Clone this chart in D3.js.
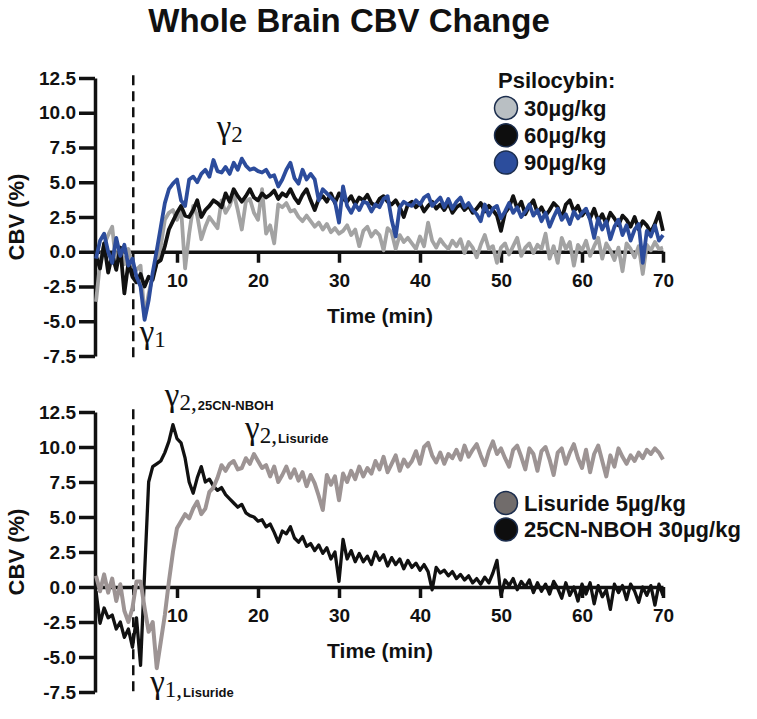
<!DOCTYPE html>
<html>
<head>
<meta charset="utf-8">
<script src="https://cdn.jsdelivr.net/npm/d3@7"></script>
<style>
    body { margin: 0; background: #fff; }
    svg text { font-family: 'Liberation Sans', Arial, sans-serif; font-weight: bold; fill: #111; }
    svg .gamma { font-family: 'Liberation Serif', 'Times New Roman', serif; font-weight: normal; }
    .axis path, .axis line { stroke: #111; stroke-width: 3.5; }
    .axis text { font-size: 19px; }
    .series { fill: none; stroke-linejoin: round; }
    .onset { stroke: #111; stroke-width: 2.5; stroke-dasharray: 10,6; }
</style>
</head>
<body>
<div id="plot"></div>
<script>

// sampled every 0.5 min from 0 to 70 min
var timeStep = 0.5;

var psilo30 = [
    -3.6, -0.8, 0.5, 1.2, 1.8, -1.0, 0.3, -0.9, 0.2, -1.0,
    -1.3, -1.0, -4.7, -3.0, -1.8, -0.8, 0.4, 2.3, 2.8, 3.0,
    2.3, 3.1, -1.2, 1.3, 3.3, 2.6, 0.9, 1.8, 2.5, 2.1,
    1.7, 3.7, 2.8, 3.3, 4.2, 3.0, 1.6, 3.6, 3.8, 2.8,
    2.3, 4.5, 1.3, 1.9, 0.6, 3.4, 3.2, 3.5, 2.9, 3.0,
    2.5, 2.2, 2.6, 2.2, 1.8, 2.1, 1.6, 2.0, 1.4, 1.7,
    1.3, 1.5, 1.9, 1.2, 1.6, 0.4, 1.5, 1.8, 1.1, 1.5,
    1.2, 0.1, 1.7, 1.4, 0.2, 1.2, 0.7, 1.0, 0.6, 0.2,
    1.1, 0.4, 2.1, 0.8, 0.3, 0.9, 0.5, 0.2, 0.8, 0.4,
    0.9, -0.1, 0.7, 0.3, -0.4, 0.5, 1.2, 0.2, 0.4, -0.8,
    0.3, 0.6, -0.2, 0.4, 1.0, -0.3, 0.3, 0.6, -0.1, 0.5,
    0.2, 1.3, -0.5, 0.4, -0.8, 1.0, 0.2, 0.7, -1.0, 0.5,
    0.1, 0.8, -0.3, 0.4, 1.0, -0.5, 0.6, 0.1, -0.6, 0.3,
    -1.4, 0.6, 0.2, -0.4, 0.4, -1.6, 0.5, 0.1, 0.7, 0.2,
    0.3
];

var psilo60 = [
    -0.3, -1.2, 0.6, -1.5, -0.2, -1.3, 0.3, -3.0, -0.8, -1.8,
    -2.2, -1.6, -2.5, -1.8, -2.0, -0.8, -0.6, 0.4, 1.6, 2.2,
    2.8, 3.3, 2.6, 2.5, 3.0, 3.7, 2.5, 3.0, 3.3, 3.7,
    3.5, 3.2, 4.2, 3.6, 4.5, 4.0, 3.6, 4.0, 4.5, 3.9,
    3.7, 4.2, 3.9, 4.1, 4.4, 3.8, 4.2, 4.0, 4.5, 3.9,
    3.5, 4.1, 4.5, 3.7, 3.0, 3.8, 4.0, 3.6, 4.2, 3.5,
    4.2, 3.8, 3.6, 4.0, 3.4, 3.9, 3.7, 4.1, 3.5, 3.3,
    3.8, 4.0, 3.6, 3.4, 3.7, 3.2, 2.5, 3.4, 3.6, 3.2,
    3.5, 2.9, 3.3, 3.6, 3.1, 3.4, 3.0, 3.5, 2.8, 3.2,
    3.4, 3.0, 3.3, 2.8, 3.1, 3.5, 2.9, 3.3, 3.0, 2.6,
    1.5, 2.8, 3.2, 4.0, 3.1, 3.6, 2.7, 3.3, 3.7, 2.8,
    3.2, 2.6, 3.0, 3.5, 3.2, 2.4, 3.4, 3.7, 2.9, 3.3,
    2.6, 3.0, 2.4, 3.1, 2.2, 2.7, 2.0, 2.8, 2.4, 1.9,
    2.6, 2.3, 1.8, 2.5, 1.6, 2.2, 1.9, 1.4, 2.0, 2.8,
    1.5
];

var psilo90 = [
    -0.5, 0.8, 1.3, 0.0, -0.8, 1.0, -0.3, 0.5, -1.0, -0.5,
    -1.8, -2.5, -4.9, -3.5, -1.5, 0.1, 1.8, 3.5, 4.5, 4.9,
    5.2, 3.7, 3.3, 5.2, 5.4, 5.0, 5.6, 5.9, 5.4, 6.6,
    5.8, 5.7, 6.1, 5.6, 6.4, 5.9, 6.7, 6.2, 5.9, 6.0,
    5.8, 5.7, 5.9, 5.4, 5.5, 4.7, 5.2, 5.9, 6.4, 5.3,
    4.9, 5.9, 5.2, 5.6, 5.2, 3.7, 4.5, 4.2, 3.9, 3.6,
    2.1, 4.7, 3.3, 2.8, 3.4, 3.0, 3.6, 3.5, 2.9, 3.4,
    3.2, 3.8, 4.0, 2.3, 1.1, 3.2, 3.6, 3.4, 3.3, 3.7,
    3.4, 3.9, 4.1, 3.3, 3.6, 3.9, 3.2, 3.8, 3.1, 3.6,
    3.9, 3.2, 3.5, 3.0, 2.7, 2.2, 3.4, 2.6, 3.1, 3.3,
    2.4, 2.9, 3.5, 2.8, 3.2, 2.5, 2.9, 3.4, 2.6, 3.0,
    2.2, 2.8, 1.8, 2.5, 3.1, 2.3, 2.7, 2.0, 2.9, 2.4,
    2.8, 3.1, 2.3, 1.0, 2.4, 1.6, 2.2, 0.9, 1.8, 2.3,
    1.2, 1.9, 0.8, 1.6, 2.0, -0.8, 1.5, 1.1, 1.9, 0.8,
    1.2
];

var lisuride = [
    0.8, -0.3, 0.9, -0.4, 0.6, -1.0, 0.2, -1.7, -2.5, -1.5,
    0.4, 0.4, -1.5, -3.2, -2.5, -5.8, -3.9, -2.0, 0.4, 2.5,
    4.2, 4.7, 5.2, 4.9, 5.6, 6.1, 5.2, 5.6, 6.8, 7.1,
    7.8, 8.7, 8.3, 8.8, 9.0, 8.4, 8.5, 9.2, 8.8, 9.5,
    9.0, 8.5, 8.7, 7.9, 8.6, 7.5, 8.0, 8.6, 7.8, 8.4,
    7.6, 8.2, 7.2, 8.0, 7.4, 6.5, 5.5, 8.0, 7.3, 7.9,
    6.2, 8.1, 7.5, 8.3, 7.7, 8.6, 7.9, 8.5, 8.1, 9.0,
    8.4, 9.3, 8.2, 8.8, 9.4, 8.3, 9.1, 8.6, 9.0, 9.7,
    8.8, 10.0, 10.3, 9.4, 8.9, 9.6, 8.8, 9.5, 9.2, 9.8,
    9.1, 10.1, 9.3, 9.8, 10.2, 9.4, 8.7, 9.7, 10.4, 9.5,
    9.9, 9.2, 8.6, 9.8, 10.1, 9.3, 8.4, 9.9, 9.5, 8.3,
    9.7, 10.0, 9.1, 8.0, 9.6, 9.9, 8.8, 9.6, 10.2, 9.2,
    8.5, 9.8, 8.2, 9.5, 10.1, 9.0, 7.9, 9.4, 8.6, 9.9,
    9.3, 8.8, 9.4, 9.0, 9.6, 9.2, 9.8, 9.5, 9.9, 9.6,
    9.1
];

var nboh = [
    -0.3, -2.6, -1.5, -2.2, -2.0, -3.0, -2.5, -3.6, -3.0, -4.3,
    -2.2, -5.6, 1.0, 7.5, 8.6, 8.8, 9.0, 9.6, 10.4, 11.6,
    10.6, 10.3, 9.2, 7.5, 6.7, 7.8, 8.6, 7.5, 7.7, 7.2,
    6.9, 7.1, 6.6, 6.3, 6.0, 5.7, 5.9, 5.3, 5.1, 5.0,
    4.7, 4.8, 4.3, 4.5, 3.9, 3.2, 4.0, 3.8, 4.3, 3.5,
    3.2, 3.6, 2.9, 3.1, 2.6, 3.0, 2.4, 2.8, 2.0, 2.5,
    0.4, 3.4, 2.0, 2.6, 1.8, 2.4, 1.8, 2.2, 1.6, 2.5,
    1.9, 2.3, 1.5, 2.1, 1.6, 2.0, 1.3, 1.9, 1.4, 1.7,
    1.2, 1.6, 1.1, -0.2, 1.4, 1.0, 1.2, 0.8, 1.1, 0.6,
    0.9, 0.5, 0.8, 0.3, 0.6, 0.2, 0.7, 0.3, 1.0, 1.9,
    -0.6, 0.5, 0.1, 0.6, -0.2, 0.4, 0.0, 0.5, -0.4, 0.3,
    -0.3, 0.2, -0.5, 0.4, -0.1, -0.8, 0.3, -0.6, 0.0, -1.0,
    0.2, -0.5, 0.3, -1.2, 0.1, -0.7, -0.2, -1.6, 0.2, -0.4,
    0.1, -0.9, 0.2, -0.3, -1.1, 0.0, -0.6, 0.1, -1.3, 0.2,
    -0.6
];

var yTicks = [-7.5, -5, -2.5, 0, 2.5, 5, 7.5, 10, 12.5];
var xTicks = [10, 20, 30, 40, 50, 60, 70];
var injectionTime = 4.6;

var topLegend = ['30\u00b5g/kg', '60\u00b5g/kg', '90\u00b5g/kg'];
var bottomLegend = ['Lisuride 5\u00b5g/kg', '25CN-NBOH 30\u00b5g/kg'];

var width = 757,
    height = 719;

var svg = d3.select('#plot')
    .append('svg')
    .attr('width', width)
    .attr('height', height);

svg.append('text')
    .attr('x', 349)
    .attr('y', 32)
    .attr('text-anchor', 'middle')
    .style('font-size', '33px')
    .text('Whole Brain CBV Change');

function drawPanel(cfg) {
    var xScale = d3.scaleLinear()
        .domain([0, 70])
        .range([96, 663]);

    var yScale = d3.scaleLinear()
        .domain([-7.5, 12.5])
        .range([cfg.bottom, cfg.top]);

    var g = svg.append('g');

    // injection marker
    g.append('line')
        .classed('onset', true)
        .attr('x1', xScale(injectionTime))
        .attr('x2', xScale(injectionTime))
        .attr('y1', yScale(12.7))
        .attr('y2', yScale(-7.7));

    var yAxis = d3.axisLeft(yScale)
        .tickValues(yTicks)
        .tickFormat(function(d) { return d.toFixed(1); })
        .tickSize(16)
        .tickSizeOuter(0)
        .tickPadding(3);

    g.append('g')
        .classed('axis', true)
        .attr('transform', 'translate(95,0)')
        .call(yAxis);

    var xAxis = d3.axisBottom(xScale)
        .tickValues(xTicks)
        .tickSize(11)
        .tickSizeOuter(0)
        .tickPadding(11);

    g.append('g')
        .classed('axis', true)
        .attr('transform', 'translate(0,' + yScale(0) + ')')
        .call(xAxis);

    var line = d3.line()
        .x(function(d, i) { return xScale(i * timeStep); })
        .y(function(d) { return yScale(d); });

    cfg.series.forEach(function(s) {
        g.append('path')
            .classed('series', true)
            .attr('stroke', s.color)
            .attr('stroke-width', s.width)
            .attr('d', line(s.values));
    });

    g.append('text')
        .attr('transform', 'translate(16,' + (cfg.top + cfg.bottom) / 2 + ') rotate(-90)')
        .attr('text-anchor', 'middle')
        .attr('dominant-baseline', 'central')
        .style('font-size', '22px')
        .text('CBV (%)');

    g.append('text')
        .attr('x', 380)
        .attr('y', yScale(0) + 71)
        .attr('text-anchor', 'middle')
        .style('font-size', '21px')
        .text('Time (min)');

    cfg.gammas.forEach(function(a) {
        var t = g.append('text')
            .attr('x', xScale(a.t))
            .attr('y', yScale(a.v));
        t.append('tspan')
            .classed('gamma', true)
            .style('font-size', '33px')
            .text('\u03b3');
        t.append('tspan')
            .classed('gamma', true)
            .attr('dy', 4)
            .style('font-size', '23px')
            .text(a.sub);
        if (a.name) {
            t.append('tspan')
                .attr('dx', 1)
                .style('font-size', '13px')
                .text(a.name);
        }
    });

    return g;
}

drawPanel({
    top: 78,
    bottom: 356,
    series: [
        {values: psilo30, color: '#a3a3a3', width: 3.8},
        {values: psilo60, color: '#111111', width: 3.8},
        {values: psilo90, color: '#2c4c9c', width: 3.8}
    ],
    gammas: [
        {t: 14.9, v: 8.2, sub: '2'},
        {t: 5.4, v: -6.6, sub: '1'}
    ]
});

drawPanel({
    top: 412,
    bottom: 692,
    series: [
        {values: nboh, color: '#111111', width: 3.3},
        {values: lisuride, color: '#9d9494', width: 4}
    ],
    gammas: [
        {t: 8.5, v: 12.9, sub: '2,', name: '25CN-NBOH'},
        {t: 18.4, v: 10.6, sub: '2,', name: 'Lisuride'},
        {t: 6.7, v: -7.6, sub: '1,', name: 'Lisuride'}
    ]
});

// legends
var legendTop = svg.append('g');

legendTop.append('text')
    .attr('x', 498)
    .attr('y', 88)
    .style('font-size', '22px')
    .text('Psilocybin:');

var topColors = ['#b9bfc3', '#0e0e0e', '#2c4d9c'];

legendTop.selectAll('circle')
    .data(topLegend)
    .enter()
    .append('circle')
    .attr('cx', 506)
    .attr('cy', function(d, i) { return 108 + i * 27.3; })
    .attr('r', 11.5)
    .attr('fill', function(d, i) { return topColors[i]; })
    .attr('stroke', '#1c2e4e')
    .attr('stroke-width', 1.5);

legendTop.selectAll('text.item')
    .data(topLegend)
    .enter()
    .append('text')
    .classed('item', true)
    .attr('x', 524)
    .attr('y', function(d, i) { return 115.5 + i * 27.3; })
    .style('font-size', '22px')
    .text(function(d) { return d; });

var legendBottom = svg.append('g');

var bottomColors = ['#716c6b', '#0e0e0e'];

legendBottom.selectAll('circle')
    .data(bottomLegend)
    .enter()
    .append('circle')
    .attr('cx', 506)
    .attr('cy', function(d, i) { return 503 + i * 26.5; })
    .attr('r', 11.5)
    .attr('fill', function(d, i) { return bottomColors[i]; })
    .attr('stroke', '#1c2e4e')
    .attr('stroke-width', 1.5);

legendBottom.selectAll('text.item')
    .data(bottomLegend)
    .enter()
    .append('text')
    .classed('item', true)
    .attr('x', 524)
    .attr('y', function(d, i) { return 510.5 + i * 26.5; })
    .style('font-size', '22px')
    .text(function(d) { return d; });

</script>
</body>
</html>
